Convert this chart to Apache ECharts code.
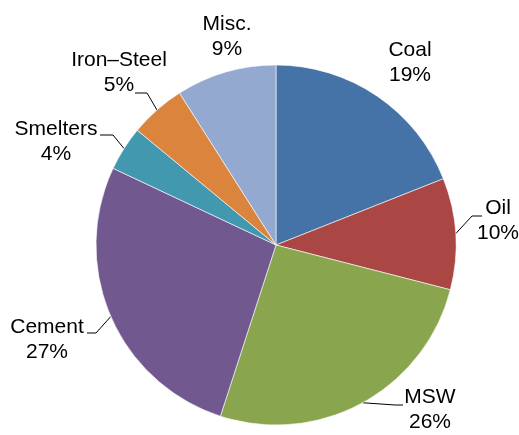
<!DOCTYPE html>
<html>
<head>
<meta charset="utf-8">
<script src="https://cdn.jsdelivr.net/npm/echarts@6/dist/echarts.min.js"></script>
<style>
  html, body { margin: 0; padding: 0; background: #fff; }
  #chart { width: 519px; height: 435px; }
</style>
</head>
<body>
<div id="chart"></div>
<script>
// categories and shares (%)
const categories = ["Coal", "Oil", "MSW", "Cement", "Smelters", "Iron–Steel", "Misc."];
const shares = [19, 10, 26, 27, 4, 5, 9];
const sliceColors = ["#4572A7", "#AA4643", "#89A54E", "#71588F", "#4198AF", "#DB843D", "#93A9CF"];

// where each label sits (block centre) and the elbow/end of its leader line
const labelPlaces = [
  { x: 410, y: 63 },
  { x: 498, y: 221, line: [[472, 216], [482, 216]] },
  { x: 430, y: 410, line: [[395, 405], [403, 405]] },
  { x: 47, y: 340, line: [[96, 333], [87, 333]] },
  { x: 56, y: 142, line: [[113, 135], [100, 135]] },
  { x: 119, y: 73, line: [[147, 93], [135, 93]] },
  { x: 227, y: 37 }
];

const chart = echarts.init(document.getElementById("chart"));

const pieData = categories.map((name, i) => ({
  name: name,
  value: shares[i],
  itemStyle: { color: sliceColors[i] },
  labelLine: { show: !!labelPlaces[i].line }
}));

chart.setOption({
  animation: false,
  backgroundColor: "#fff",
  series: [
    {
      type: "pie",
      center: [276, 245],
      radius: 180,
      startAngle: 90,
      clockwise: true,
      avoidLabelOverlap: false,
      data: pieData,
      itemStyle: {
        borderColor: "#fff",
        borderWidth: 0.6
      },
      label: {
        show: true,
        position: "outside",
        formatter: (p) => p.name + "\n" + p.value + "%",
        fontFamily: "'Liberation Sans', Arial, sans-serif",
        fontSize: 21,
        lineHeight: 25,
        color: "#000"
      },
      labelLine: {
        show: true,
        length: 10,
        length2: 10,
        lineStyle: { color: "#000", width: 1 }
      },
      labelLayout: function (params) {
        const place = labelPlaces[params.dataIndex];
        const res = { x: place.x, y: place.y, align: "center", verticalAlign: "middle" };
        if (place.line && params.labelLinePoints) {
          res.labelLinePoints = [params.labelLinePoints[0], place.line[0], place.line[1]];
        }
        return res;
      },
      emphasis: { disabled: true }
    }
  ]
});
</script>
</body>
</html>
